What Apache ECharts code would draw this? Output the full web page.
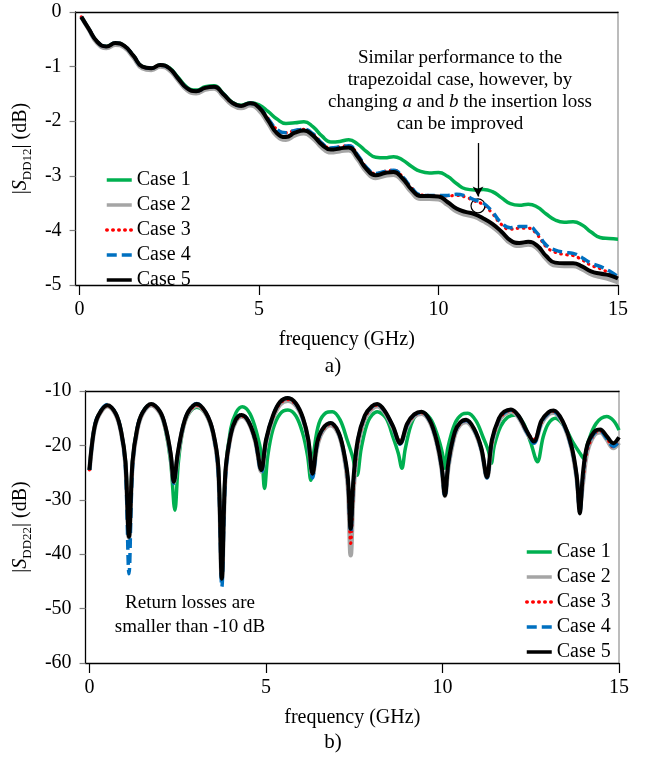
<!DOCTYPE html>
<html><head><meta charset="utf-8">
<script src="https://cdn.jsdelivr.net/npm/echarts@6/dist/echarts.min.js"></script>
<style>html,body{margin:0;padding:0;background:#fff}#c{width:650px;height:757px}</style>
</head><body><div id="c"></div>
<script>
// ---------- Top chart (a): |S_DD12| ----------
const topFreq = [0.05,0.25,0.5,0.75,1.0,1.25,1.5,1.75,2.0,2.25,2.5,2.75,3.0,3.25,3.5,3.75,4.0,4.25,4.5,4.75,5.0,5.25,5.5,5.75,6.0,6.25,6.5,6.75,7.0,7.25,7.5,7.75,8.0,8.25,8.5,8.75,9.0,9.25,9.5,9.75,10.0,10.25,10.5,10.75,11.0,11.25,11.5,11.75,12.0,12.25,12.5,12.75,13.0,13.25,13.5,13.75,14.0,14.25,14.5,14.75,15.0];
const topCase1 = [-0.09,-0.30,-0.55,-0.63,-0.57,-0.62,-0.80,-1.00,-1.03,-0.97,-1.02,-1.20,-1.38,-1.43,-1.37,-1.35,-1.49,-1.65,-1.71,-1.66,-1.70,-1.82,-1.96,-2.04,-2.03,-2.01,-2.10,-2.27,-2.38,-2.37,-2.34,-2.42,-2.56,-2.66,-2.67,-2.65,-2.71,-2.83,-2.92,-2.95,-2.94,-3.01,-3.14,-3.24,-3.26,-3.25,-3.29,-3.40,-3.51,-3.54,-3.52,-3.57,-3.70,-3.81,-3.85,-3.84,-3.90,-4.03,-4.13,-4.15,-4.16];
const topCase2 = [-0.09,-0.31,-0.57,-0.66,-0.60,-0.65,-0.83,-1.03,-1.06,-1.00,-1.06,-1.25,-1.43,-1.49,-1.42,-1.40,-1.54,-1.70,-1.76,-1.71,-1.80,-2.03,-2.27,-2.34,-2.26,-2.22,-2.31,-2.48,-2.57,-2.55,-2.53,-2.70,-2.93,-3.04,-3.00,-2.98,-3.10,-3.30,-3.42,-3.42,-3.43,-3.53,-3.65,-3.71,-3.75,-3.83,-3.93,-4.07,-4.23,-4.28,-4.26,-4.33,-4.52,-4.64,-4.65,-4.65,-4.71,-4.80,-4.85,-4.89,-4.95];
const topCase3 = [-0.09,-0.30,-0.55,-0.63,-0.57,-0.62,-0.80,-1.00,-1.03,-0.97,-1.03,-1.22,-1.40,-1.45,-1.39,-1.37,-1.50,-1.66,-1.72,-1.67,-1.74,-1.95,-2.15,-2.21,-2.17,-2.15,-2.23,-2.40,-2.49,-2.47,-2.45,-2.62,-2.85,-2.96,-2.92,-2.90,-3.02,-3.22,-3.35,-3.36,-3.37,-3.37,-3.36,-3.39,-3.46,-3.53,-3.69,-3.89,-3.98,-3.96,-3.96,-4.08,-4.30,-4.40,-4.44,-4.46,-4.54,-4.64,-4.70,-4.78,-4.88];
const topCase4 = [-0.09,-0.30,-0.55,-0.63,-0.57,-0.62,-0.80,-1.00,-1.03,-0.97,-1.03,-1.22,-1.40,-1.45,-1.39,-1.37,-1.50,-1.66,-1.72,-1.67,-1.74,-1.95,-2.15,-2.21,-2.17,-2.15,-2.23,-2.40,-2.49,-2.47,-2.45,-2.62,-2.85,-2.96,-2.92,-2.90,-3.02,-3.22,-3.35,-3.36,-3.36,-3.36,-3.34,-3.37,-3.44,-3.50,-3.66,-3.86,-3.95,-3.93,-3.93,-4.05,-4.27,-4.36,-4.40,-4.42,-4.50,-4.60,-4.66,-4.74,-4.85];
const topCase5 = [-0.09,-0.30,-0.55,-0.63,-0.57,-0.62,-0.80,-1.00,-1.03,-0.97,-1.03,-1.22,-1.40,-1.45,-1.39,-1.37,-1.50,-1.66,-1.72,-1.67,-1.75,-1.98,-2.22,-2.29,-2.21,-2.17,-2.26,-2.43,-2.52,-2.50,-2.48,-2.65,-2.88,-2.99,-2.95,-2.93,-3.05,-3.25,-3.37,-3.37,-3.38,-3.48,-3.60,-3.66,-3.70,-3.78,-3.88,-4.02,-4.18,-4.23,-4.21,-4.28,-4.47,-4.59,-4.60,-4.60,-4.66,-4.75,-4.79,-4.82,-4.88];

// ---------- Bottom chart (b): |S_DD22| ----------
const botFreq = [0,0.12,0.25,0.51,0.75,0.9,1.02,1.12,1.22,1.35,1.5,1.75,2.0,2.15,2.3,2.39,2.5,2.65,2.8,3.04,3.3,3.5,3.65,3.75,3.85,4.0,4.15,4.31,4.5,4.7,4.87,5.0,5.2,5.4,5.62,5.85,6.05,6.2,6.32,6.45,6.6,6.83,7.05,7.2,7.32,7.4,7.48,7.6,7.8,8.0,8.15,8.35,8.6,8.8,9.0,9.2,9.41,9.65,9.85,9.98,10.07,10.17,10.35,10.5,10.67,10.9,11.1,11.26,11.4,11.6,11.75,11.94,12.15,12.4,12.59,12.8,13.0,13.15,13.4,13.65,13.8,13.89,13.98,14.1,14.3,14.47,14.65,14.84,15.0];
const botCase5 = [-24.5,-17.5,-14.5,-12.6,-14.2,-17.5,-23,-36.8,-23,-17.0,-14.0,-12.4,-13.8,-16.5,-21.5,-26.7,-21.5,-16.5,-13.8,-12.4,-14.0,-17.5,-24,-44.5,-25,-18,-15.2,-14.4,-15.5,-19,-24.5,-19,-14.5,-12.0,-11.3,-12.3,-15,-19,-25.2,-19.5,-17,-15.9,-17.5,-21,-26,-35.3,-26,-19,-14.5,-12.8,-12.4,-13.5,-16.5,-19.6,-16,-14.3,-13.8,-15.5,-19.5,-24,-29.2,-23,-17.5,-15.8,-15.3,-17,-20.5,-25.8,-19,-15,-13.8,-13.4,-14.5,-17.5,-19.3,-15.5,-13.9,-13.6,-15.5,-20,-25.5,-32.5,-25,-20,-17.5,-17.1,-18.3,-19.6,-18.5];
const botCase4 = [-24.5,-17.5,-14.4,-12.5,-14.2,-17.6,-24,-43.6,-24,-17.0,-14.0,-12.4,-13.8,-16.6,-21.7,-27.0,-21.7,-16.5,-13.8,-12.3,-14.0,-17.6,-25,-46.0,-26,-18,-15.2,-14.3,-15.5,-19.2,-25.0,-19.2,-14.5,-12.0,-11.3,-12.4,-15.2,-19.4,-26.0,-19.8,-17.1,-15.9,-17.6,-21.2,-26.5,-36.0,-26.5,-19.2,-14.6,-12.9,-12.5,-13.6,-16.7,-19.8,-16.2,-14.4,-13.9,-15.6,-19.7,-24.3,-29.4,-23.3,-17.7,-15.9,-15.4,-17.1,-20.7,-26.0,-19.3,-15.2,-14.0,-13.5,-14.6,-17.7,-19.6,-15.8,-14.1,-13.8,-15.7,-20.3,-25.8,-32.3,-25.5,-20.3,-17.8,-17.4,-18.7,-20.2,-19.3];
const botCase3 = [-24.5,-17.6,-14.6,-12.7,-14.3,-17.6,-23.2,-36.5,-23.4,-17.2,-14.1,-12.5,-13.9,-16.6,-21.6,-26.5,-21.8,-16.7,-14.0,-12.6,-14.1,-17.6,-24.2,-44.0,-25.5,-18.2,-15.4,-14.6,-15.6,-19.1,-24.6,-19.4,-14.8,-12.3,-11.6,-12.5,-15.1,-19.1,-25.0,-20.0,-17.3,-16.1,-17.6,-21.1,-27.0,-38.0,-28.0,-19.8,-14.9,-13.1,-12.6,-13.6,-16.6,-19.3,-16.3,-14.5,-14.0,-15.6,-19.6,-24.2,-28.8,-23.5,-17.8,-16.0,-15.5,-17.1,-20.6,-25.5,-19.5,-15.3,-14.1,-13.6,-14.6,-17.6,-18.9,-15.8,-14.1,-13.8,-15.6,-20.2,-25.8,-31.5,-26.5,-21.0,-17.9,-17.4,-18.6,-20.3,-19.2];
const botCase2 = [-24.6,-17.7,-14.7,-12.8,-14.4,-17.7,-23.4,-37.0,-23.5,-17.3,-14.2,-12.6,-14.0,-16.7,-21.8,-26.8,-22.0,-16.8,-14.1,-12.7,-14.2,-17.7,-24.5,-44.5,-25.6,-18.3,-15.5,-14.7,-15.7,-19.3,-24.8,-19.6,-15.0,-12.5,-11.8,-12.7,-15.3,-19.3,-25.4,-20.2,-17.5,-16.3,-17.8,-21.4,-27.5,-40.2,-28.5,-20.2,-15.1,-13.3,-12.8,-13.8,-16.8,-19.6,-16.5,-14.7,-14.2,-15.8,-19.9,-24.5,-29.3,-23.8,-18.0,-16.2,-15.7,-17.3,-20.8,-25.9,-19.7,-15.5,-14.3,-13.8,-14.8,-17.8,-19.4,-16.0,-14.3,-14.0,-15.8,-20.4,-26.0,-31.0,-26.8,-21.2,-18.1,-17.6,-18.9,-20.5,-19.5];
const botFreq1 = [0,0.12,0.25,0.51,0.75,0.9,1.02,1.12,1.22,1.35,1.5,1.75,2.0,2.15,2.3,2.42,2.52,2.65,2.8,3.04,3.3,3.5,3.65,3.75,3.85,4.0,4.15,4.33,4.55,4.75,4.88,4.96,5.05,5.2,5.4,5.62,5.85,6.05,6.18,6.27,6.36,6.5,6.7,6.88,7.1,7.3,7.45,7.58,7.7,7.9,8.15,8.4,8.6,8.75,8.85,8.95,9.15,9.4,9.65,9.85,10.0,10.07,10.15,10.35,10.55,10.72,10.95,11.15,11.3,11.38,11.47,11.65,11.85,12.08,12.3,12.5,12.69,12.85,13.0,13.2,13.45,13.7,13.9,14.0,14.12,14.35,14.65,14.85,15.0];
const botCase1 = [-24.5,-17.5,-14.5,-12.7,-14.2,-17.5,-23,-36,-23,-17,-14,-12.5,-14,-17,-23,-31.9,-23,-17,-14.3,-13.0,-14.3,-17.8,-24,-42,-25,-17,-14,-12.9,-14.2,-18,-22,-27.9,-22,-17,-14.2,-13.5,-14.6,-18,-22,-26.4,-21,-16,-14,-13.8,-15.3,-19,-22,-25.5,-20.5,-15.5,-13.8,-15,-18.5,-21.5,-24.2,-20.5,-15.5,-13.9,-15,-18,-21.5,-24.2,-20.5,-16,-14.3,-14.1,-15.5,-18.5,-21,-23.3,-20,-16.5,-14.8,-14.4,-16.0,-19.5,-23.0,-18.5,-16,-15.0,-16.5,-19.5,-21.5,-22.4,-19.5,-16,-14.7,-15.5,-17.2];

const caseNames = ['Case 1','Case 2','Case 3','Case 4','Case 5'];
const xTicks = [0,5,10,15];

const FONT = 'Liberation Serif, Times New Roman, serif';
const styles = [
  {color:'#00B050', lineStyle:{width:3.5, type:'solid'}},
  {color:'#A5A5A5', lineStyle:{width:4.5, type:'solid'}},
  {color:'#FF0000', lineStyle:{width:3.2, type:[0.5,5.5], cap:'round'}},
  {color:'#0070C0', lineStyle:{width:3.5, type:[10,5]}},
  {color:'#000000', lineStyle:{width:4, type:'solid'}}
];
function pairs(xs, ys){ return xs.map((x,i)=>[x, ys[i]]); }

const topData = [topCase1, topCase2, topCase3, topCase4, topCase5].map(v=>pairs(topFreq, v));
const botData = [pairs(botFreq1, botCase1), pairs(botFreq, botCase2), pairs(botFreq, botCase3), pairs(botFreq, botCase4), pairs(botFreq, botCase5)];

function xAxisMain(gi){
  return {gridIndex:gi, type:'value', min:-0.11, max:15,
    axisLine:{show:true, onZero:false, lineStyle:{color:'#000', width:1.3}},
    axisTick:{show:true, customValues:xTicks, length:10, lineStyle:{color:'#000', width:1.2}},
    axisLabel:{customValues:xTicks, fontFamily:FONT, fontSize:20, color:'#000', margin:15},
    splitLine:{show:false},
    name:'frequency (GHz)', nameLocation:'middle', nameGap:45,
    nameTextStyle:{fontFamily:FONT, fontSize:20, color:'#000'}};
}
function xAxisTop(gi){
  return {gridIndex:gi, type:'value', position:'top', min:-0.11, max:15,
    axisLine:{show:true, onZero:false, lineStyle:{color:'#000', width:1.3}},
    axisTick:{show:false}, axisLabel:{show:false}, splitLine:{show:false}};
}
function yAxisMain(gi, min, max, interval, sub){
  return {gridIndex:gi, type:'value', min:min, max:max, interval:interval,
    axisLine:{show:true, onZero:false, lineStyle:{color:'#000', width:1.3}},
    axisTick:{show:true, length:6, lineStyle:{color:'#7f7f7f', width:1.2}},
    axisLabel:{fontFamily:FONT, fontSize:20, color:'#000', margin:14},
    splitLine:{show:false},
    name:'|{i|S}{s|' + sub + '}| (dB)', nameLocation:'middle', nameGap:35, nameRotate:90,
    nameTextStyle:{fontFamily:FONT, fontSize:20, color:'#000', lineHeight:26,
      rich:{i:{fontFamily:FONT, fontSize:20, fontStyle:'italic', color:'#000', lineHeight:26},
            s:{fontFamily:FONT, fontSize:13, color:'#000', lineHeight:12, verticalAlign:'bottom'}}}};
}
function yAxisRight(gi, min, max){
  return {gridIndex:gi, type:'value', position:'right', min:min, max:max,
    axisLine:{show:true, onZero:false, lineStyle:{color:'#A6A6A6', width:1.5}},
    axisTick:{show:false}, axisLabel:{show:false}, splitLine:{show:false}};
}

const series = [];
topData.forEach((d,i)=>{
  const s = {name:caseNames[i], type:'line', xAxisIndex:0, yAxisIndex:0, data:d,
    smooth:0.5, showSymbol:false, symbol:'circle', symbolSize:0, color:styles[i].color,
    lineStyle:Object.assign({color:styles[i].color}, styles[i].lineStyle), z:2+i};
  if(i===4){
    s.markLine = {silent:true, symbol:['none','arrow'], symbolSize:[8,10], label:{show:false},
      lineStyle:{color:'#000', width:1.3, type:'solid'},
      data:[[{coord:[11.1,-2.4]},{coord:[11.1,-3.38]}]]};
    s.markPoint = {silent:true, symbol:'circle', symbolSize:14, label:{show:false},
      itemStyle:{color:'rgba(0,0,0,0)', borderColor:'#000', borderWidth:1.2},
      data:[{coord:[11.1,-3.55]}]};
  }
  series.push(s);
});
botData.forEach((d,i)=>{
  series.push({name:caseNames[i], type:'line', xAxisIndex:2, yAxisIndex:2, data:d,
    smooth:0.35, showSymbol:false, symbol:'circle', symbolSize:0, color:styles[i].color,
    lineStyle:Object.assign({color:styles[i].color}, styles[i].lineStyle), z:2+i});
});

const legendBase = {orient:'vertical', itemWidth:25, itemHeight:14, itemGap:5,
  itemStyle:{opacity:0, borderWidth:0},
  lineStyle:{width:3.5},
  textStyle:{fontFamily:FONT, fontSize:20, color:'#000', lineHeight:20},
  data:caseNames, selectedMode:false};

const chart = echarts.init(document.getElementById('c'), null, {renderer:'canvas'});
chart.setOption({
  animation:false,
  backgroundColor:'#fff',
  grid:[{left:74, top:12, right:32, height:273},
        {left:81, top:391, right:31, height:272}],
  xAxis:[xAxisMain(0), xAxisTop(0), xAxisMain(1), xAxisTop(1)],
  yAxis:[yAxisMain(0,-5,0,1,'DD12'), yAxisRight(0,-5,0), yAxisMain(1,-60,-10,10,'DD22'), yAxisRight(1,-60,-10)],
  legend:[Object.assign({left:100, top:165}, legendBase),
          Object.assign({left:520, top:537}, legendBase)],
  series:series,
  graphic:[
    {type:'text', x:460, y:47, silent:true, style:{
      text:'Similar performance to the\ntrapezoidal case, however, by\nchanging {i|a} and {i|b} the insertion loss\ncan be improved',
      fontFamily:FONT, fontSize:19, lineHeight:22, fill:'#000', align:'center', verticalAlign:'top',
      rich:{i:{fontFamily:FONT, fontSize:19, fontStyle:'italic', lineHeight:22}}}},
    {type:'text', x:190, y:591, silent:true, style:{
      text:'Return losses are\nsmaller than -10 dB',
      fontFamily:FONT, fontSize:19, lineHeight:24, fill:'#000', align:'center', verticalAlign:'top'}},
    {type:'text', x:333, y:356, silent:true, style:{text:'a)', fontFamily:FONT, fontSize:21, fill:'#000', align:'center', verticalAlign:'top'}},
    {type:'text', x:333, y:732, silent:true, style:{text:'b)', fontFamily:FONT, fontSize:21, fill:'#000', align:'center', verticalAlign:'top'}}
  ]
});
</script>
</body></html>
